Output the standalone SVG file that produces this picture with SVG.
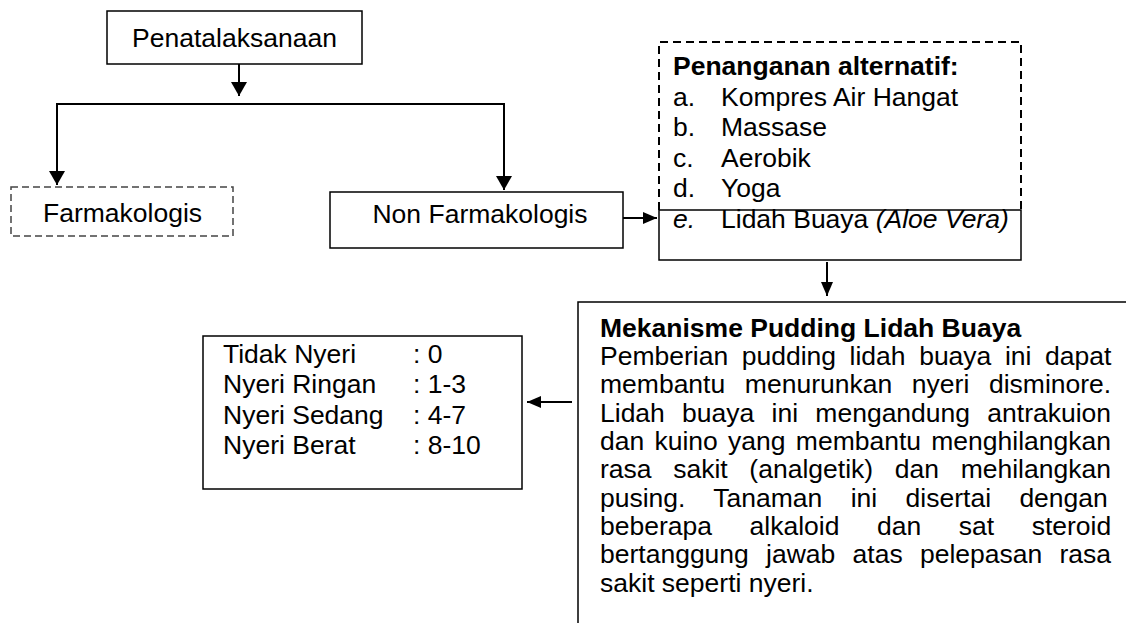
<svg xmlns="http://www.w3.org/2000/svg" width="1126" height="623" viewBox="0 0 1126 623">
<style>
  text { font-family: "Liberation Sans", Arial, sans-serif; font-size: 26.5px; fill: #000; }
  .b { font-weight: bold; }
  .i { font-style: italic; }
  .box { fill: #fff; stroke: #000; stroke-width: 1.5; }
  .dash1 { fill: none; stroke: #444; stroke-width: 1.5; stroke-dasharray: 7 4; }
  .dash2 { fill: none; stroke: #000; stroke-width: 2; stroke-dasharray: 8 5; }
  .edge { fill: none; stroke: #000; stroke-width: 2; }
  .mid { text-anchor: middle; }
</style>
<defs>
  <marker id="ah" viewBox="0 0 14 16" refX="14" refY="8" markerWidth="14" markerHeight="16" markerUnits="userSpaceOnUse" orient="auto">
    <path d="M0,0 L14,8 L0,16 Z" fill="#000"/>
  </marker>
  <marker id="ahs" viewBox="0 0 14 12" refX="14" refY="6" markerWidth="14" markerHeight="12" markerUnits="userSpaceOnUse" orient="auto">
    <path d="M0,0 L14,6 L0,12 Z" fill="#000"/>
  </marker>
</defs>
<rect width="1126" height="623" fill="#fff"/>

<g id="connectors">
  <line class="edge" x1="239" y1="64" x2="239" y2="96" marker-end="url(#ah)"/>
  <path class="edge" d="M239,104 H57 V185" marker-end="url(#ah)"/>
  <path class="edge" d="M239,104 H504 V190" marker-end="url(#ah)"/>
  <line class="edge" x1="623" y1="218" x2="657" y2="218" marker-end="url(#ahs)"/>
  <line class="edge" x1="827" y1="262" x2="827" y2="296" marker-end="url(#ahs)"/>
  <line class="edge" x1="572" y1="402" x2="527" y2="402" marker-end="url(#ahs)"/>
</g>

<g id="penatalaksanaan">
  <rect class="box" x="107" y="11" width="255" height="53"/>
  <text class="mid" x="234.5" y="47">Penatalaksanaan</text>
</g>

<g id="farmakologis">
  <rect class="dash1" x="11" y="187" width="222" height="49"/>
  <text class="mid" x="122.5" y="222">Farmakologis</text>
</g>

<g id="non-farmakologis">
  <rect class="box" x="330" y="192" width="293" height="56"/>
  <text class="mid" x="480" y="223">Non Farmakologis</text>
</g>

<g id="penanganan-alternatif">
  <path class="dash2" d="M659,210 V42 H1021 V210"/>
  <rect class="box" x="659" y="210" width="362" height="50" fill="none" style="fill:none"/>
  <text class="b" x="673" y="75">Penanganan alternatif:</text>
  <text x="673" y="106">a.</text><text x="721" y="106">Kompres Air Hangat</text>
  <text x="673" y="136">b.</text><text x="721" y="136">Massase</text>
  <text x="673" y="167">c.</text><text x="721" y="167">Aerobik</text>
  <text x="673" y="197">d.</text><text x="721" y="197">Yoga</text>
  <text class="i" x="673" y="228">e.</text><text x="721" y="228">Lidah Buaya <tspan class="i">(Aloe Vera)</tspan></text>
</g>

<g id="skala-nyeri">
  <rect class="box" x="203" y="336" width="319" height="153"/>
  <text x="223" y="363">Tidak Nyeri</text><text x="413" y="363">: 0</text>
  <text x="223" y="393">Nyeri Ringan</text><text x="413" y="393">: 1-3</text>
  <text x="223" y="424">Nyeri Sedang</text><text x="413" y="424">: 4-7</text>
  <text x="223" y="454">Nyeri Berat</text><text x="413" y="454">: 8-10</text>
</g>

<g id="mekanisme">
  <path d="M1126,302 H578 V623" fill="none" stroke="#000" stroke-width="1.5"/>
  <text class="b" x="600" y="337">Mekanisme Pudding Lidah Buaya</text>
  <text x="600" y="365" style="word-spacing:6.2px">Pemberian pudding lidah buaya ini dapat</text>
  <text x="600" y="393" style="word-spacing:12.3px">membantu menurunkan nyeri disminore.</text>
  <text x="600" y="422" style="word-spacing:9.9px">Lidah buaya ini mengandung antrakuion</text>
  <text x="600" y="450" style="word-spacing:2.9px">dan kuino yang membantu menghilangkan</text>
  <text x="600" y="478" style="word-spacing:14.3px">rasa sakit (analgetik) dan mehilangkan</text>
  <text x="600" y="507" style="word-spacing:21px">pusing. Tanaman ini disertai dengan</text>
  <text x="600" y="535" style="word-spacing:30.2px">beberapa alkaloid dan sat steroid</text>
  <text x="600" y="563" style="word-spacing:9.9px">bertanggung jawab atas pelepasan rasa</text>
  <text x="600" y="592">sakit seperti nyeri.</text>
</g>
</svg>
